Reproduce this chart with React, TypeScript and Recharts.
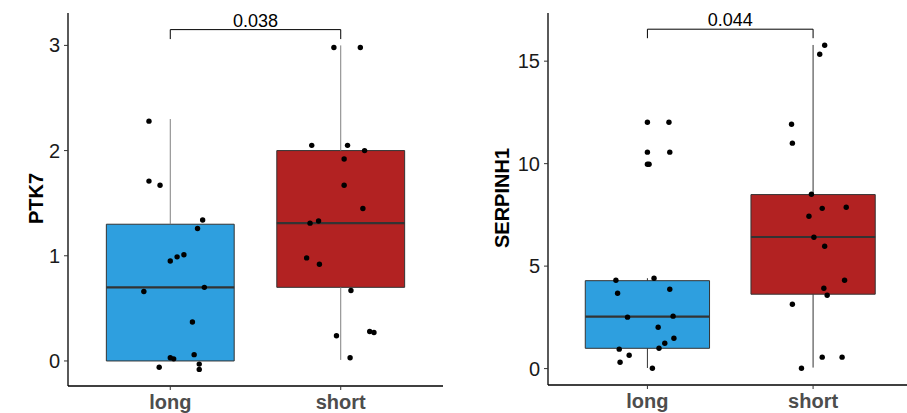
import React from 'react';
import { ScatterChart, Scatter, XAxis, YAxis, ReferenceArea, ReferenceLine } from 'recharts';

const groups = ['long', 'short'];
const groupPos = [1, 2];

// PTK7 panel
const ptk7LongValues = [2.28, 1.71, 1.67, 1.34, 1.26, 0.95, 0.99, 1.01, 0.66, 0.7, 0.37, 0.03, 0.02, 0.06, -0.06, -0.03, -0.08];
const ptk7LongJitter = [-0.125, -0.125, -0.06, 0.19, 0.16, 0.0, 0.04, 0.08, -0.155, 0.2, 0.13, 0.0, 0.02, 0.14, -0.065, 0.17, 0.17];
const ptk7ShortValues = [2.98, 2.98, 2.05, 2.05, 2.0, 1.92, 1.67, 1.45, 1.31, 1.33, 0.98, 0.92, 0.67, 0.24, 0.28, 0.27, 0.03];
const ptk7ShortJitter = [-0.04, 0.115, -0.17, 0.04, 0.14, 0.02, 0.02, 0.13, -0.18, -0.13, -0.2, -0.125, 0.06, -0.025, 0.17, 0.195, 0.055];
const ptk7Q1 = [0, 0.7];
const ptk7Median = [0.7, 1.31];
const ptk7Q3 = [1.3, 2.0];
const ptk7Lower = [0, 0.01];
const ptk7Upper = [2.3, 3.0];
const ptk7Ticks = [0, 1, 2, 3];
const ptk7Bracket = [3.15, 3.06];
const ptk7P = '0.038';

// SERPINH1 panel
const serpLongValues = [12.02, 12.02, 10.56, 10.56, 9.97, 9.97, 4.31, 4.41, 3.68, 3.87, 2.51, 2.56, 2.02, 1.48, 1.24, 0.99, 0.95, 0.65, 0.31, 0.02];
const serpLongJitter = [0.0, 0.13, 0.0, 0.135, 0.0, 0.01, -0.19, 0.04, -0.18, 0.135, -0.12, 0.155, 0.065, 0.16, 0.105, 0.07, -0.17, -0.11, -0.165, 0.03];
const serpShortValues = [15.78, 15.34, 11.92, 11.0, 8.51, 7.82, 7.87, 7.43, 6.41, 5.97, 4.31, 3.92, 3.58, 3.14, 0.56, 0.56, 0.02];
const serpShortJitter = [0.07, 0.04, -0.13, -0.125, -0.01, 0.055, 0.2, -0.025, 0.005, 0.07, 0.19, 0.065, 0.085, -0.125, 0.055, 0.175, -0.07];
const serpQ1 = [0.99, 3.63];
const serpMedian = [2.54, 6.42];
const serpQ3 = [4.29, 8.49];
const serpLower = [0.03, 0.05];
const serpUpper = [4.41, 15.79];
const serpTicks = [0, 5, 10, 15];
const serpBracket = [16.56, 16.12];
const serpP = '0.044';

const FONT = '"Liberation Sans", Arial, sans-serif';
const BOX_HALF = 0.375;

const toPoints = (vals: number[], jit: number[], pos: number) =>
  vals.map((v, i) => ({ x: pos + jit[i], y: v }));

const Dot = (p: any) => <circle cx={p.cx} cy={p.cy} r={2.7} fill="#000" />;

const yTitle = (text: string, x: number) => (props: any) => {
  const vb = props.viewBox || {};
  const cy = (vb.y ?? 0) + (vb.height ?? 0) / 2 - 1;
  return (
    <text
      x={x}
      y={cy}
      transform={`rotate(-90, ${x}, ${cy})`}
      textAnchor="middle"
      dominantBaseline="central"
      fontSize={20}
      fontWeight="bold"
      fill="#000"
      fontFamily={FONT}
    >
      {text}
    </text>
  );
};

interface PanelProps {
  left: number;
  width: number;
  marginLeft: number;
  yAxisWidth: number;
  marginRight: number;
  xAxisHeight: number;
  domain: [number, number];
  ticks: number[];
  title: string;
  titleX: number;
  q1: number[];
  median: number[];
  q3: number[];
  lower: number[];
  upper: number[];
  points: { x: number; y: number }[];
  bracket: number[];
  pValue: string;
  whiskerColor: string;
}

function BoxPanel(p: PanelProps) {
  const fills = ['#2E9FDF', '#B22222'];
  return (
    <div style={{ position: 'absolute', left: p.left, top: 0 }}>
      <ScatterChart
        width={p.width}
        height={413}
        margin={{ top: 13, right: p.marginRight, left: p.marginLeft, bottom: 0 }}
      >
        <XAxis
          type="number"
          dataKey="x"
          domain={[0.4, 2.6]}
          ticks={groupPos}
          allowDataOverflow
          height={p.xAxisHeight}
          tickFormatter={(v: number) => groups[groupPos.indexOf(v)] ?? ''}
          axisLine={{ stroke: '#000', strokeWidth: 1.3 }}
          tickLine={{ stroke: '#333' }}
          tickSize={4}
          tickMargin={5}
          tick={{ fill: '#4d4d4d', fontSize: 20, fontWeight: 'bold', fontFamily: FONT }}
        />
        <YAxis
          type="number"
          dataKey="y"
          domain={p.domain}
          ticks={p.ticks}
          allowDataOverflow
          width={p.yAxisWidth}
          axisLine={{ stroke: '#000', strokeWidth: 1.3 }}
          tickLine={{ stroke: '#333' }}
          tickSize={4}
          tickMargin={4}
          tick={{ fill: '#1a1a1a', fontSize: 20, fontFamily: FONT }}
          label={{ content: yTitle(p.title, p.titleX) }}
        />
        {groupPos.map((g, i) => (
          <ReferenceLine
            key={`wu${i}`}
            segment={[{ x: g, y: p.q3[i] }, { x: g, y: p.upper[i] }]}
            stroke={p.whiskerColor}
            strokeWidth={1}
            ifOverflow="visible"
          />
        ))}
        {groupPos.map((g, i) => (
          <ReferenceLine
            key={`wl${i}`}
            segment={[{ x: g, y: p.lower[i] }, { x: g, y: p.q1[i] }]}
            stroke={p.whiskerColor}
            strokeWidth={1}
            ifOverflow="visible"
          />
        ))}
        {groupPos.map((g, i) => (
          <ReferenceArea
            key={`b${i}`}
            x1={g - BOX_HALF}
            x2={g + BOX_HALF}
            y1={p.q1[i]}
            y2={p.q3[i]}
            fill={fills[i]}
            fillOpacity={1}
            stroke="#333"
            strokeWidth={1}
            ifOverflow="visible"
          />
        ))}
        {groupPos.map((g, i) => (
          <ReferenceLine
            key={`m${i}`}
            segment={[{ x: g - BOX_HALF, y: p.median[i] }, { x: g + BOX_HALF, y: p.median[i] }]}
            stroke="#333"
            strokeWidth={2.2}
            ifOverflow="visible"
          />
        ))}
        <ReferenceLine
          segment={[{ x: 1, y: p.bracket[1] }, { x: 1, y: p.bracket[0] }]}
          stroke="#000"
          ifOverflow="visible"
        />
        <ReferenceLine
          segment={[{ x: 2, y: p.bracket[1] }, { x: 2, y: p.bracket[0] }]}
          stroke="#000"
          ifOverflow="visible"
        />
        <ReferenceLine
          segment={[{ x: 1, y: p.bracket[0] }, { x: 2, y: p.bracket[0] }]}
          stroke="#000"
          ifOverflow="visible"
          label={{ value: p.pValue, position: 'top', offset: 3, fontSize: 18, fill: '#000', fontFamily: FONT }}
        />
        <Scatter data={p.points} dataKey="y" isAnimationActive={false} shape={Dot} />
      </ScatterChart>
    </div>
  );
}

export default function App() {
  const ptk7Points = [
    ...toPoints(ptk7LongValues, ptk7LongJitter, groupPos[0]),
    ...toPoints(ptk7ShortValues, ptk7ShortJitter, groupPos[1]),
  ];
  const serpPoints = [
    ...toPoints(serpLongValues, serpLongJitter, groupPos[0]),
    ...toPoints(serpShortValues, serpShortJitter, groupPos[1]),
  ];
  return (
    <div
      style={{
        position: 'absolute',
        left: 0,
        top: 0,
        width: 907,
        height: 413,
        overflow: 'hidden',
        background: '#fff',
        fontFamily: FONT,
      }}
    >
      <BoxPanel
        left={0}
        width={450}
        marginLeft={28}
        yAxisWidth={40}
        marginRight={7}
        xAxisHeight={27}
        domain={[-0.238, 3.308]}
        ticks={ptk7Ticks}
        title="PTK7"
        titleX={36}
        q1={ptk7Q1}
        median={ptk7Median}
        q3={ptk7Q3}
        lower={ptk7Lower}
        upper={ptk7Upper}
        points={ptk7Points}
        bracket={ptk7Bracket}
        pValue={ptk7P}
        whiskerColor="#808080"
      />
      <BoxPanel
        left={450}
        width={470}
        marginLeft={48}
        yAxisWidth={50}
        marginRight={7.5}
        xAxisHeight={28}
        domain={[-0.8, 17.35]}
        ticks={serpTicks}
        title="SERPINH1"
        titleX={52}
        q1={serpQ1}
        median={serpMedian}
        q3={serpQ3}
        lower={serpLower}
        upper={serpUpper}
        points={serpPoints}
        bracket={serpBracket}
        pValue={serpP}
        whiskerColor="#333"
      />
    </div>
  );
}
